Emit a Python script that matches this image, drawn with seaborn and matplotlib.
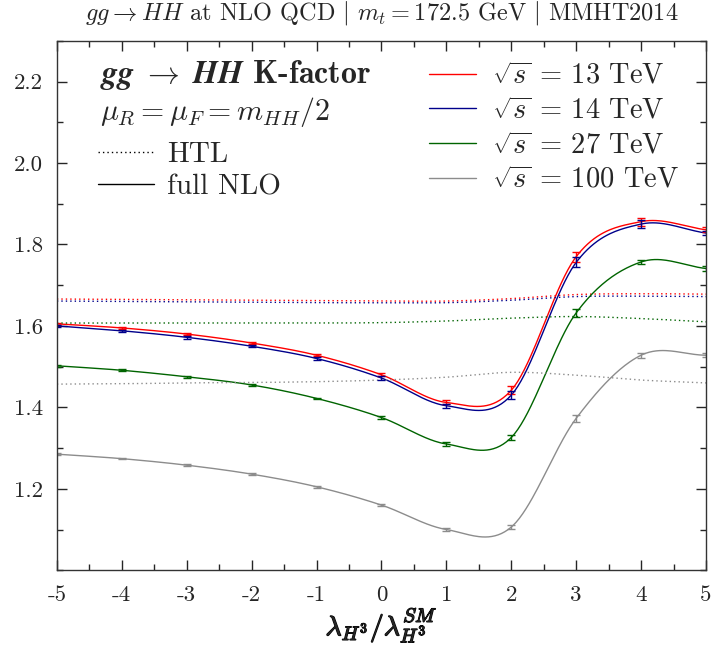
import numpy as np
import pandas as pd
import matplotlib
matplotlib.use("Agg")
import matplotlib.pyplot as plt
import matplotlib.patheffects as pe
from matplotlib.lines import Line2D
from matplotlib.ticker import MultipleLocator
import seaborn as sns

# data
lam = [-5, -4, -3, -2, -1, 0, 1, 2, 3, 4, 5]
energies = ["13", "14", "27", "100"]
colors = {"13": "#ff0000", "14": "#00008b", "27": "#006400", "100": "#8c8c8c"}

k_nlo_13 = [1.605, 1.595, 1.580, 1.558, 1.528, 1.480, 1.412, 1.442, 1.770, 1.856, 1.836]
k_nlo_14 = [1.600, 1.588, 1.572, 1.550, 1.520, 1.472, 1.404, 1.430, 1.756, 1.850, 1.828]
k_nlo_27 = [1.502, 1.491, 1.475, 1.455, 1.422, 1.375, 1.310, 1.326, 1.632, 1.757, 1.741]
k_nlo_100 = [1.285, 1.274, 1.258, 1.236, 1.205, 1.160, 1.100, 1.106, 1.373, 1.528, 1.528]

err_13 = [0.003, 0.003, 0.003, 0.003, 0.003, 0.004, 0.005, 0.010, 0.012, 0.010, 0.006]
err_14 = [0.003, 0.003, 0.003, 0.003, 0.003, 0.004, 0.005, 0.010, 0.012, 0.010, 0.006]
err_27 = [0.002, 0.002, 0.002, 0.002, 0.002, 0.003, 0.004, 0.006, 0.009, 0.006, 0.005]
err_100 = [0.002, 0.002, 0.002, 0.002, 0.002, 0.003, 0.003, 0.005, 0.009, 0.006, 0.005]

k_htl_13 = [1.666, 1.665, 1.664, 1.663, 1.662, 1.661, 1.661, 1.667, 1.677, 1.679, 1.678]
k_htl_14 = [1.661, 1.660, 1.659, 1.658, 1.657, 1.657, 1.657, 1.663, 1.672, 1.673, 1.672]
k_htl_27 = [1.607, 1.607, 1.607, 1.607, 1.607, 1.608, 1.612, 1.619, 1.623, 1.618, 1.610]
k_htl_100 = [1.457, 1.458, 1.460, 1.461, 1.463, 1.467, 1.474, 1.486, 1.479, 1.467, 1.460]

nlo = {"13": k_nlo_13, "14": k_nlo_14, "27": k_nlo_27, "100": k_nlo_100}
err = {"13": err_13, "14": err_14, "27": err_27, "100": err_100}
htl = {"13": k_htl_13, "14": k_htl_14, "27": k_htl_27, "100": k_htl_100}

xticks = [-5, -4, -3, -2, -1, 0, 1, 2, 3, 4, 5]
xticklabels = ["-5", "-4", "-3", "-2", "-1", "0", "1", "2", "3", "4", "5"]
yticks = [1.2, 1.4, 1.6, 1.8, 2.0, 2.2]
yticklabels = ["1.2", "1.4", "1.6", "1.8", "2.0", "2.2"]


def smooth(x, y, n_sub=40):
    # Catmull-Rom curve through the points (only for drawing the line)
    x = np.asarray(x, float)
    y = np.asarray(y, float)
    m = np.gradient(y, x)
    xs, ys = [], []
    for i in range(len(x) - 1):
        h = x[i + 1] - x[i]
        t = np.linspace(0, 1, n_sub, endpoint=(i == len(x) - 2))
        h00 = 2 * t**3 - 3 * t**2 + 1
        h10 = t**3 - 2 * t**2 + t
        h01 = -2 * t**3 + 3 * t**2
        h11 = t**3 - t**2
        xs.append(x[i] + t * h)
        ys.append(h00 * y[i] + h10 * h * m[i] + h01 * y[i + 1] + h11 * h * m[i + 1])
    return np.concatenate(xs), np.concatenate(ys)


rows = []
for e in energies:
    for kind, src in (("NLO", nlo), ("HTL", htl)):
        xs, ys = smooth(lam, src[e])
        rows.append(pd.DataFrame({"lam": xs, "K": ys, "energy": e, "kind": kind}))
curves = pd.concat(rows, ignore_index=True)

sns.set_style("ticks")
plt.rcParams["font.family"] = "serif"
plt.rcParams["font.serif"] = ["cmr10", "DejaVu Serif"]
plt.rcParams["mathtext.fontset"] = "cm"
plt.rcParams["axes.unicode_minus"] = False

fig = plt.figure(figsize=(7.11, 6.48), dpi=100)
ax = fig.add_axes([0.080, 0.120, 0.913, 0.817])

sns.lineplot(data=curves, x="lam", y="K", hue="energy", style="kind",
             hue_order=energies, palette=colors,
             style_order=["NLO", "HTL"], dashes={"NLO": "", "HTL": (1, 2.2)},
             linewidth=1.0, legend=False, ax=ax, sort=False, estimator=None)

for e in energies:
    ax.errorbar(lam, nlo[e], yerr=err[e], fmt="none", ecolor=colors[e],
                elinewidth=1.0, capsize=3, capthick=1.0)

ax.set_xlim(-5, 5)
ax.set_ylim(1.0, 2.3)
ax.set_xticks(xticks)
ax.set_xticklabels(xticklabels)
ax.set_yticks(yticks)
ax.set_yticklabels(yticklabels)
ax.xaxis.set_minor_locator(MultipleLocator(0.5))
ax.yaxis.set_minor_locator(MultipleLocator(0.1))
ax.tick_params(which="both", direction="in", top=True, right=True, labelsize=16.5)
ax.tick_params(axis="y", which="both", pad=10)
ax.tick_params(axis="x", which="both", pad=11)
ax.tick_params(which="major", length=7, width=1)
ax.tick_params(which="minor", length=4, width=1)
for s in ax.spines.values():
    s.set_linewidth(1.0)
    s.set_color("#333333")

xl = ax.set_xlabel(r"$\lambda_{H^3}/\lambda_{H^3}^{SM}$", fontsize=20, labelpad=0)
xl.set_path_effects([pe.withStroke(linewidth=0.9, foreground="black")])
ax.set_ylabel("")
ax.set_title(r"$gg \to HH$ at NLO QCD $|$ $m_t = 172.5$ GeV $|$ MMHT2014",
             fontsize=17.5, pad=15)

# left legend block
ax.text(0.066, 0.936, r"$\boldsymbol{gg}\;\to\;\boldsymbol{HH}$ K-factor",
        transform=ax.transAxes, fontsize=23, family="cmb10", va="center")
ax.text(0.066, 0.866, r"$\mu_R = \mu_F = m_{HH}/2$", transform=ax.transAxes,
        fontsize=21.5, va="center")
leg1 = ax.legend(handles=[Line2D([], [], color="black", lw=1.0, ls=(0, (1, 2.2))),
                          Line2D([], [], color="black", lw=1.0)],
                 labels=["HTL", "full NLO"], loc="upper left",
                 bbox_to_anchor=(0.064, 0.810), frameon=False, fontsize=21,
                 handlelength=1.9, handletextpad=0.45, labelspacing=0.22,
                 borderaxespad=0, borderpad=0)
ax.add_artist(leg1)

leg2 = ax.legend(handles=[Line2D([], [], color=colors[e], lw=1.0) for e in energies],
                 labels=[r"$\sqrt{s}$ = " + e + " TeV" for e in energies],
                 loc="upper left", bbox_to_anchor=(0.574, 0.958), frameon=False,
                 fontsize=20.5, handlelength=1.65, handletextpad=0.55,
                 labelspacing=0.28, borderaxespad=0, borderpad=0)

fig.savefig("out.png", dpi=100)
